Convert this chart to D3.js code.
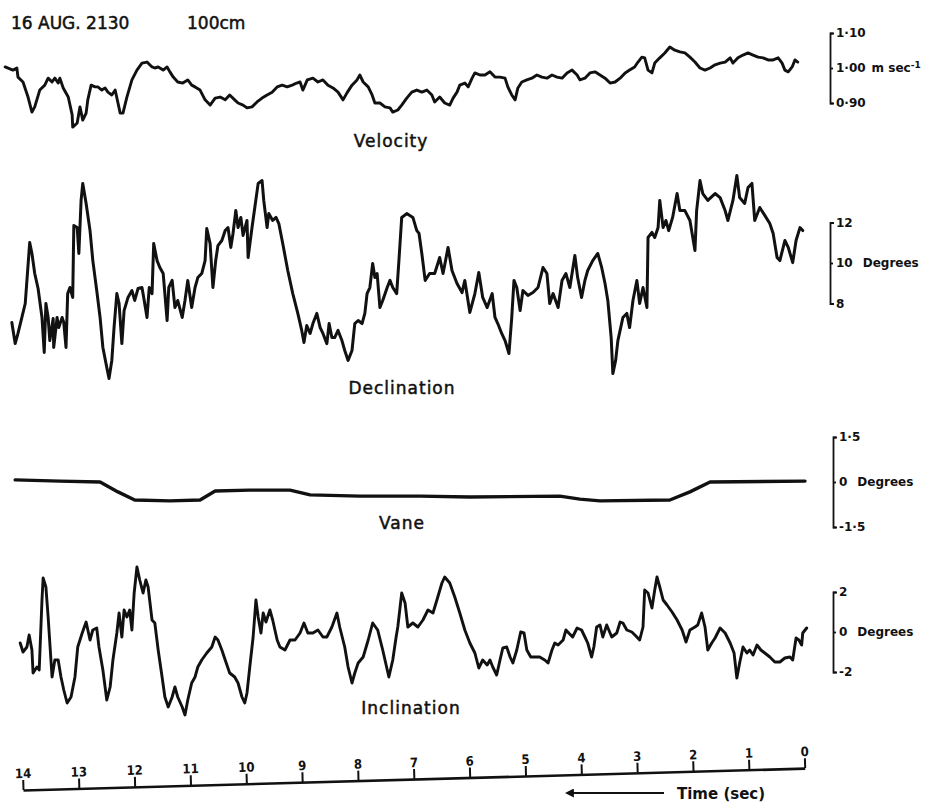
<!DOCTYPE html>
<html>
<head>
<meta charset="utf-8">
<script src="https://cdn.jsdelivr.net/npm/d3@7"></script>
<style>
  body { margin: 0; background: #fff; }
  svg { display: block; }
</style>
</head>
<body>
<svg id="chart" width="929" height="805"></svg>
<script>
// Record of 16 Aug, 21:30, sensor at 100 cm; time runs right to left (seconds before end).
const timeTicks = [14, 13, 12, 11, 10, 9, 8, 7, 6, 5, 4, 3, 2, 1, 0];

const velocityTicks = [0.9, 1.0, 1.1];
const velocityLabels = ["0·90", "1·00", "1·10"];
const declinationTicks = [8, 10, 12];
const declinationLabels = ["8", "10", "12"];
const vaneTicks = [-1.5, 0, 1.5];
const vaneLabels = ["-1·5", "0", "1·5"];
const inclinationTicks = [-2, 0, 2];
const inclinationLabels = ["-2", "0", "2"];

// [time (sec), velocity (m/s)]
const velocity = [
  [14.32,1.003],[14.18,0.994],[14.11,1.000],[14.09,0.974],[14.00,0.960],[13.91,0.917],[13.84,0.874],[13.79,0.889],
  [13.70,0.937],[13.61,0.951],[13.55,0.971],[13.48,0.960],[13.43,0.971],[13.37,0.957],[13.34,0.971],[13.28,0.943],
  [13.19,0.917],[13.12,0.866],[13.11,0.831],[13.03,0.843],[12.98,0.889],[12.93,0.851],[12.87,0.871],[12.84,0.909],
  [12.78,0.951],[12.71,0.946],[12.66,0.946],[12.59,0.937],[12.53,0.943],[12.48,0.931],[12.41,0.923],[12.35,0.937],
  [12.26,0.871],[12.21,0.871],[12.14,0.917],[12.05,0.966],[11.96,0.994],[11.87,1.014],[11.78,1.017],[11.69,1.003],
  [11.64,1.000],[11.58,1.003],[11.49,0.994],[11.42,1.003],[11.37,0.989],[11.31,0.974],[11.23,0.960],[11.14,0.957],
  [11.05,0.966],[10.98,0.951],[10.92,0.946],[10.83,0.937],[10.74,0.909],[10.65,0.894],[10.56,0.914],[10.47,0.917],
  [10.38,0.909],[10.30,0.923],[10.21,0.909],[10.15,0.900],[10.06,0.894],[9.99,0.886],[9.90,0.889],[9.81,0.903],
  [9.72,0.914],[9.63,0.923],[9.54,0.931],[9.45,0.946],[9.36,0.951],[9.27,0.946],[9.18,0.951],[9.10,0.957],
  [9.04,0.960],[8.99,0.937],[8.91,0.966],[8.81,0.971],[8.72,0.960],[8.63,0.966],[8.54,0.951],[8.45,0.943],
  [8.36,0.931],[8.27,0.909],[8.20,0.929],[8.11,0.951],[8.02,0.966],[7.97,0.980],[7.91,0.960],[7.82,0.946],
  [7.75,0.923],[7.70,0.900],[7.61,0.900],[7.52,0.889],[7.43,0.886],[7.38,0.874],[7.29,0.880],[7.22,0.894],
  [7.13,0.914],[7.04,0.931],[6.95,0.937],[6.86,0.931],[6.77,0.937],[6.68,0.923],[6.63,0.903],[6.54,0.917],
  [6.45,0.900],[6.36,0.894],[6.30,0.914],[6.23,0.931],[6.18,0.951],[6.09,0.957],[6.03,0.946],[5.96,0.971],
  [5.91,0.986],[5.82,0.980],[5.73,0.980],[5.64,0.989],[5.55,0.974],[5.46,0.974],[5.37,0.971],[5.32,0.946],
  [5.25,0.923],[5.19,0.909],[5.14,0.943],[5.07,0.960],[4.98,0.966],[4.89,0.971],[4.80,0.980],[4.71,0.974],
  [4.62,0.971],[4.53,0.980],[4.44,0.974],[4.35,0.971],[4.26,0.986],[4.17,0.994],[4.08,0.980],[4.03,0.966],
  [3.94,0.971],[3.85,0.986],[3.76,0.989],[3.67,0.980],[3.58,0.971],[3.49,0.957],[3.40,0.960],[3.31,0.971],
  [3.22,0.986],[3.14,0.994],[3.05,1.003],[2.99,1.017],[2.92,1.031],[2.87,1.029],[2.81,0.994],[2.74,0.986],
  [2.69,1.014],[2.60,1.029],[2.51,1.043],[2.42,1.060],[2.33,1.051],[2.24,1.046],[2.15,1.043],[2.06,1.031],
  [1.97,1.017],[1.88,1.000],[1.79,0.994],[1.70,1.000],[1.61,1.009],[1.52,1.014],[1.43,1.017],[1.34,1.029],
  [1.29,1.014],[1.20,1.029],[1.11,1.037],[1.02,1.043],[0.93,1.037],[0.84,1.031],[0.75,1.029],[0.66,1.023],
  [0.57,1.023],[0.48,1.029],[0.41,1.014],[0.36,0.994],[0.30,0.989],[0.23,1.003],[0.18,1.023],[0.13,1.017]
];

// [time (sec), declination (degrees)]
const declination = [
  [14.20,7.06],[14.14,6.02],[14.09,6.52],[14.02,7.31],[13.96,8.00],[13.88,11.01],[13.84,10.47],[13.79,9.48],
  [13.73,8.74],[13.66,7.31],[13.62,5.58],[13.59,8.00],[13.55,7.31],[13.52,6.17],[13.46,7.26],[13.45,5.83],
  [13.39,7.31],[13.36,6.81],[13.30,7.31],[13.27,7.06],[13.23,5.83],[13.20,8.49],[13.16,8.79],[13.11,8.30],
  [13.09,11.85],[13.03,11.75],[13.00,10.47],[12.96,13.09],[12.93,13.93],[12.87,12.94],[12.80,11.60],[12.75,10.12],
  [12.68,8.64],[12.62,7.31],[12.57,5.83],[12.50,4.84],[12.46,4.30],[12.41,5.19],[12.37,6.81],[12.32,8.49],
  [12.28,8.00],[12.23,6.02],[12.19,7.65],[12.12,8.30],[12.05,8.64],[12.00,8.15],[11.94,8.74],[11.87,8.79],
  [11.83,8.15],[11.78,7.31],[11.74,8.79],[11.69,8.49],[11.66,10.96],[11.60,10.12],[11.55,9.78],[11.49,9.48],
  [11.42,7.16],[11.39,8.79],[11.33,9.14],[11.28,7.80],[11.23,8.15],[11.15,7.31],[11.10,8.15],[11.05,9.14],
  [10.98,7.80],[10.92,8.79],[10.87,9.28],[10.80,9.48],[10.74,10.12],[10.71,11.70],[10.65,10.96],[10.60,8.79],
  [10.55,10.12],[10.51,10.86],[10.44,11.11],[10.38,11.60],[10.33,11.75],[10.28,10.77],[10.24,11.46],[10.19,12.59],
  [10.15,11.75],[10.10,12.25],[10.06,11.36],[9.99,12.10],[9.97,10.27],[9.90,11.75],[9.85,12.74],[9.79,13.93],
  [9.72,14.07],[9.69,13.09],[9.63,11.75],[9.60,12.44],[9.53,12.10],[9.47,12.25],[9.42,11.95],[9.35,10.96],
  [9.26,9.63],[9.17,8.49],[9.08,7.51],[9.01,6.67],[8.97,6.07],[8.92,6.91],[8.86,6.52],[8.81,7.01],
  [8.74,7.51],[8.68,6.81],[8.63,6.52],[8.56,6.02],[8.52,7.01],[8.47,6.32],[8.42,6.32],[8.36,6.67],
  [8.29,6.17],[8.24,5.68],[8.18,5.19],[8.11,5.68],[8.06,7.01],[8.00,7.16],[7.93,7.01],[7.88,7.51],
  [7.84,8.49],[7.79,8.79],[7.74,9.98],[7.70,9.28],[7.66,9.48],[7.61,7.80],[7.56,8.15],[7.48,8.79],
  [7.43,9.14],[7.38,8.79],[7.31,8.49],[7.27,10.12],[7.22,12.25],[7.13,12.44],[7.02,12.25],[6.95,11.60],
  [6.91,11.46],[6.86,10.47],[6.80,9.14],[6.72,9.48],[6.63,9.48],[6.54,10.27],[6.48,9.48],[6.39,10.77],
  [6.32,9.63],[6.23,8.99],[6.14,8.54],[6.09,9.14],[6.00,7.56],[5.91,8.49],[5.84,9.53],[5.77,8.30],
  [5.69,7.80],[5.60,8.49],[5.55,7.31],[5.50,7.01],[5.43,6.52],[5.37,6.17],[5.30,5.53],[5.25,7.31],
  [5.21,9.14],[5.16,8.79],[5.10,7.65],[5.05,8.64],[4.96,8.40],[4.87,8.54],[4.78,8.79],[4.69,9.78],
  [4.62,9.48],[4.57,8.00],[4.51,8.49],[4.42,7.80],[4.35,9.14],[4.28,9.48],[4.21,8.79],[4.12,10.37],
  [4.07,9.28],[4.00,8.30],[3.94,9.14],[3.89,9.63],[3.80,10.12],[3.71,10.47],[3.64,9.78],[3.58,8.99],
  [3.53,8.15],[3.47,6.32],[3.44,4.54],[3.39,5.19],[3.35,6.17],[3.26,7.31],[3.19,7.51],[3.14,6.81],
  [3.08,8.15],[3.01,9.14],[2.96,8.00],[2.90,8.79],[2.83,7.80],[2.81,11.26],[2.74,11.51],[2.69,11.26],
  [2.63,11.75],[2.60,13.09],[2.54,11.75],[2.49,12.10],[2.44,11.60],[2.37,12.25],[2.29,13.43],[2.24,12.59],
  [2.15,12.59],[2.06,12.10],[1.97,10.62],[1.94,12.59],[1.88,14.07],[1.83,13.43],[1.74,13.09],[1.61,13.43],
  [1.52,13.23],[1.43,12.59],[1.38,12.10],[1.29,13.09],[1.22,14.32],[1.17,13.23],[1.08,12.94],[1.02,13.73],
  [0.95,13.93],[0.90,12.10],[0.81,12.74],[0.72,12.35],[0.63,11.95],[0.57,11.46],[0.50,10.27],[0.45,10.12],
  [0.36,11.11],[0.30,10.77],[0.22,10.02],[0.16,11.11],[0.09,11.75],[0.04,11.60]
];

// [time (sec), vane angle (degrees)]
const vane = [
  [14.14,0.07],[13.34,0.03],[12.62,0.00],[12.30,-0.33],[12.00,-0.60],[11.37,-0.63],[10.83,-0.60],[10.56,-0.30],
  [9.94,-0.27],[9.22,-0.27],[8.86,-0.43],[7.97,-0.47],[6.89,-0.47],[6.00,-0.50],[4.39,-0.47],[4.03,-0.57],
  [3.67,-0.63],[2.42,-0.60],[2.06,-0.33],[1.70,0.00],[0.00,0.03]
];

// [time (sec), inclination (degrees)]
const inclination = [
  [14.05,-0.55],[14.00,-1.00],[13.93,-0.75],[13.89,-0.15],[13.84,-0.90],[13.82,-2.05],[13.75,-1.75],[13.71,-1.90],
  [13.66,1.60],[13.64,2.70],[13.59,2.25],[13.55,0.75],[13.48,-2.25],[13.43,-1.40],[13.37,-1.40],[13.32,-2.25],
  [13.27,-2.90],[13.21,-3.55],[13.14,-3.25],[13.07,-2.25],[13.02,-0.75],[12.94,-0.05],[12.87,0.50],[12.80,-0.40],
  [12.75,0.10],[12.68,0.20],[12.64,-0.75],[12.57,-1.90],[12.50,-3.40],[12.44,-2.75],[12.39,-1.40],[12.32,-0.05],
  [12.28,0.95],[12.23,-0.25],[12.19,1.10],[12.14,0.75],[12.09,1.10],[12.05,0.10],[12.01,1.95],[11.96,3.25],
  [11.91,2.60],[11.85,1.95],[11.80,2.60],[11.76,2.25],[11.69,0.60],[11.64,0.45],[11.58,-0.90],[11.51,-2.25],
  [11.46,-3.25],[11.40,-3.75],[11.33,-3.25],[11.28,-2.75],[11.23,-3.25],[11.15,-3.75],[11.10,-4.15],[11.05,-3.40],
  [10.98,-2.55],[10.92,-2.25],[10.87,-1.75],[10.80,-1.40],[10.71,-1.05],[10.62,-0.75],[10.56,-0.25],[10.51,-0.40],
  [10.44,-0.90],[10.38,-1.40],[10.30,-2.05],[10.21,-2.25],[10.15,-2.55],[10.08,-3.25],[10.03,-3.55],[9.99,-3.05],
  [9.94,-1.75],[9.88,-0.25],[9.83,1.60],[9.79,0.75],[9.74,-0.05],[9.70,0.95],[9.65,0.50],[9.58,1.10],
  [9.53,0.60],[9.45,-0.40],[9.40,-0.75],[9.31,-0.90],[9.22,-0.40],[9.13,-0.40],[9.04,-0.05],[8.97,0.45],
  [8.90,-0.05],[8.81,-0.05],[8.72,0.10],[8.63,-0.25],[8.56,-0.25],[8.47,0.25],[8.38,0.95],[8.33,0.25],
  [8.24,-0.75],[8.18,-1.75],[8.11,-2.55],[8.06,-2.05],[8.00,-1.55],[7.91,-1.25],[7.82,-0.40],[7.74,0.45],
  [7.65,0.10],[7.56,-0.90],[7.45,-2.25],[7.38,-1.40],[7.32,-0.25],[7.29,0.25],[7.22,1.95],[7.16,1.45],
  [7.11,0.25],[7.02,0.45],[6.93,0.25],[6.84,0.60],[6.75,1.10],[6.66,0.95],[6.59,1.60],[6.50,2.45],
  [6.45,2.75],[6.36,2.45],[6.27,1.75],[6.18,0.95],[6.09,0.10],[6.00,-0.55],[5.91,-1.05],[5.84,-1.80],
  [5.77,-1.40],[5.69,-1.65],[5.64,-1.40],[5.59,-1.75],[5.52,-2.15],[5.46,-1.40],[5.41,-0.80],[5.34,-0.75],
  [5.28,-1.25],[5.23,-1.55],[5.16,-0.90],[5.09,0.00],[5.03,-0.05],[4.98,-0.90],[4.91,-1.25],[4.84,-1.25],
  [4.75,-1.25],[4.66,-1.40],[4.60,-1.55],[4.53,-0.90],[4.48,-0.55],[4.42,-0.65],[4.33,-0.40],[4.28,0.10],
  [4.23,-0.05],[4.16,-0.25],[4.08,0.20],[4.00,0.10],[3.94,-0.25],[3.89,-0.55],[3.82,-1.25],[3.78,-0.75],
  [3.73,0.25],[3.67,0.35],[3.62,-0.25],[3.55,0.35],[3.46,-0.25],[3.37,-0.05],[3.31,0.50],[3.26,0.45],
  [3.19,0.10],[3.10,0.00],[3.01,-0.25],[2.96,-0.40],[2.90,0.25],[2.87,2.10],[2.81,1.95],[2.74,1.20],
  [2.69,2.10],[2.65,2.75],[2.60,2.25],[2.54,1.60],[2.47,1.35],[2.38,1.00],[2.29,0.60],[2.20,0.10],
  [2.13,-0.50],[2.06,0.10],[1.97,0.25],[1.92,0.35],[1.85,0.95],[1.79,0.25],[1.74,-0.90],[1.67,-0.55],
  [1.61,-0.30],[1.52,0.20],[1.43,-0.05],[1.34,-0.55],[1.27,-1.05],[1.22,-2.30],[1.17,-1.55],[1.11,-0.75],
  [1.04,-1.05],[0.99,-0.90],[0.93,-1.15],[0.86,-0.65],[0.79,-0.90],[0.72,-1.05],[0.63,-1.25],[0.54,-1.50],
  [0.45,-1.50],[0.36,-1.30],[0.27,-1.25],[0.22,-1.40],[0.16,-0.30],[0.11,-0.40],[0.06,-0.65],[0.04,-0.05],
  [-0.03,0.20]
];

const svg = d3.select("#chart");
const ink = "#111";
const titleFont = "'DejaVu Sans', 'Noto Sans', sans-serif";
const labelFont = "'DejaVu Sans', sans-serif";
const condFont = "'DejaVu Sans Condensed', 'DejaVu Sans', sans-serif";

// Shared time scale (seconds, decreasing to the right)
const x = d3.scaleLinear().domain([14, 0]).range([23, 805]);

const panels = [
  { data: velocity, domain: [0.9, 1.1], range: [103, 33], ticks: velocityTicks, labels: velocityLabels,
    unit: "m sec", sup: "-1", axisX: 830, title: "Velocity", tx: 391, ty: 147, width: 2.9 },
  { data: declination, domain: [8, 12], range: [303.5, 222.5], ticks: declinationTicks, labels: declinationLabels,
    unit: "Degrees", axisX: 830, title: "Declination", tx: 402, ty: 394, width: 3.0 },
  { data: vane, domain: [-1.5, 1.5], range: [527, 437], ticks: vaneTicks, labels: vaneLabels,
    unit: "Degrees", axisX: 833, title: "Vane", tx: 402, ty: 529, width: 3.4 },
  { data: inclination, domain: [-2, 2], range: [672, 592], ticks: inclinationTicks, labels: inclinationLabels,
    unit: "Degrees", axisX: 833, title: "Inclination", tx: 411, ty: 714, width: 2.9 }
];

panels.forEach(p => {
  const y = d3.scaleLinear().domain(p.domain).range(p.range);

  // trace
  svg.append("path")
    .datum(p.data)
    .attr("fill", "none")
    .attr("stroke", ink)
    .attr("stroke-width", p.width)
    .attr("stroke-linejoin", "round")
    .attr("stroke-linecap", "round")
    .attr("d", d3.line().x(d => x(d[0])).y(d => y(d[1])));

  // bracket scale on the right
  const ax = svg.append("g")
    .attr("transform", `translate(${p.axisX},0)`)
    .call(d3.axisRight(y)
      .tickValues(p.ticks)
      .tickSize(3)
      .tickSizeOuter(4)
      .tickPadding(3)
      .tickFormat((d, i) => p.labels[i]));
  ax.select(".domain").attr("stroke", ink).attr("stroke-width", 1.8);
  ax.selectAll(".tick line").attr("stroke", ink).attr("stroke-width", 1.8);
  ax.selectAll(".tick text")
    .attr("fill", ink)
    .attr("font-family", labelFont)
    .attr("font-weight", "bold")
    .attr("font-size", 12);

  // unit label next to the middle tick
  const mid = ax.selectAll(".tick text").filter((d, i) => i === 1);
  mid.append("tspan").attr("dx", p.unit === "Degrees" ? 10 : 6).text(p.unit);
  if (p.sup) {
    mid.append("tspan").attr("dy", -4).attr("font-size", 9).text(p.sup);
  }

  // panel title
  svg.append("text")
    .attr("x", p.tx).attr("y", p.ty)
    .attr("text-anchor", "middle")
    .attr("font-family", titleFont)
    .attr("font-size", 17)
    .attr("letter-spacing", 1)
    .attr("fill", ink)
    .attr("stroke", ink)
    .attr("stroke-width", 0.5)
    .text(p.title);
});

// header
svg.append("text").attr("x", 11).attr("y", 29)
  .attr("font-family", titleFont).attr("font-size", 17).attr("fill", ink)
  .attr("stroke", ink).attr("stroke-width", 0.5)
  .text("16 AUG. 2130");
svg.append("text").attr("x", 187).attr("y", 29)
  .attr("font-family", titleFont).attr("font-size", 17).attr("fill", ink)
  .attr("stroke", ink).attr("stroke-width", 0.5)
  .text("100cm");

// time axis (slightly skewed baseline)
const tAxis = svg.append("g")
  .attr("transform", "translate(0,790) rotate(-1.6 23 0)")
  .call(d3.axisTop(x).tickValues(timeTicks).tickSize(10).tickSizeOuter(0).tickPadding(2).tickFormat(d3.format("d")));
tAxis.select(".domain").attr("stroke", ink).attr("stroke-width", 2.6);
tAxis.selectAll(".tick line").attr("stroke", ink).attr("stroke-width", 2);
tAxis.selectAll(".tick text")
  .attr("fill", ink)
  .attr("font-family", condFont)
  .attr("font-weight", "bold")
  .attr("font-size", 13);

// direction arrow and axis title
svg.append("defs").append("marker")
  .attr("id", "arrowhead")
  .attr("viewBox", "0 0 10 10")
  .attr("refX", 1).attr("refY", 5)
  .attr("markerWidth", 5).attr("markerHeight", 5)
  .attr("orient", "auto-start-reverse")
  .append("path").attr("d", "M0,0 L10,5 L0,10 z").attr("fill", ink);
svg.append("line")
  .attr("x1", 573).attr("y1", 793).attr("x2", 664).attr("y2", 793)
  .attr("stroke", ink).attr("stroke-width", 1.8)
  .attr("marker-start", "url(#arrowhead)");
svg.append("text").attr("x", 677).attr("y", 799)
  .attr("font-family", labelFont).attr("font-weight", "bold").attr("font-size", 15)
  .attr("fill", ink)
  .text("Time (sec)");
</script>
</body>
</html>
